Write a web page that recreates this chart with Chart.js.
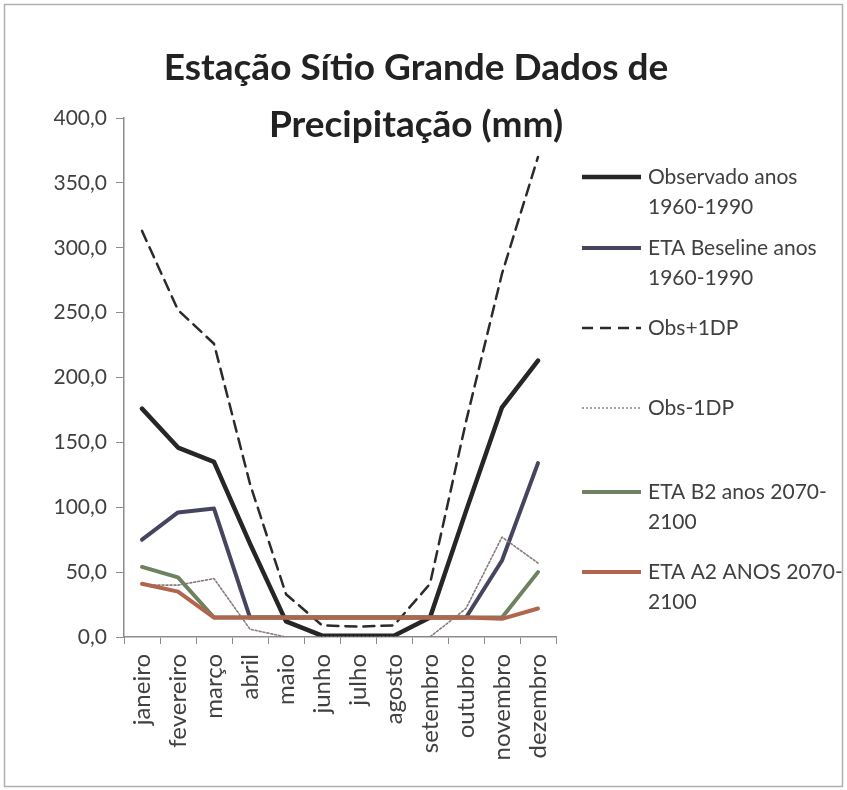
<!DOCTYPE html>
<html>
<head>
<meta charset="utf-8">
<script src="https://cdn.jsdelivr.net/npm/chart.js@4.4.1/dist/chart.umd.min.js"></script>
<style>
    html, body { margin: 0; padding: 0; background: #fff; }
    #wrap { width: 847px; height: 790px; position: relative; }
</style>
</head>
<body>
<div id="wrap"><canvas id="precipChart" width="847" height="790"></canvas></div>
<script>
// chart data (mm)
const months = ['janeiro', 'fevereiro', 'março', 'abril', 'maio', 'junho',
                'julho', 'agosto', 'setembro', 'outubro', 'novembro', 'dezembro'];
const observado = [176, 146, 135, 72, 12, 1, 1, 1, 15, 97, 177, 213];
const etaBaseline = [75, 96, 99, 15, 15, 15, 15, 15, 15, 15, 59, 134];
const obsMais1DP = [313, 252, 226, 118, 33, 9, 8, 9, 41, 166, 280, 370];
const obsMenos1DP = [40, 40, 45, 6, 0, 0, 0, 0, 0, 22, 77, 57];
const etaB2 = [54, 46, 15, 15, 15, 15, 15, 15, 15, 15, 15, 50];
const etaA2 = [41, 35, 15, 15, 15, 15, 15, 15, 15, 15, 14, 22];
const seriesNames = ['Observado anos 1960-1990', 'ETA Beseline anos 1960-1990', 'Obs+1DP',
                     'Obs-1DP', 'ETA B2 anos 2070-2100', 'ETA A2 ANOS 2070-2100'];
const yTicks = [0, 50, 100, 150, 200, 250, 300, 350, 400];
const titleLines = ['Estação Sítio Grande Dados de', 'Precipitação (mm)'];

Chart.defaults.font.family = 'Lato, "Open Sans", sans-serif';

// legend row positions (first text row of each entry)
const legendRows = [177, 248, 328, 408, 492, 572];

// Title, legend and frame drawn on the canvas
const decorPlugin = {
    id: 'decor',
    afterDraw(chart) {
        const ctx = chart.ctx;
        ctx.save();

        // outer frame
        ctx.strokeStyle = '#b0b0b0';
        ctx.lineWidth = 1.5;
        ctx.strokeRect(4.5, 4.5, 838, 782);

        // title
        ctx.fillStyle = '#222';
        ctx.font = 'bold 37px Lato';
        ctx.textAlign = 'center';
        ctx.textBaseline = 'middle';
        titleLines.forEach((t, i) => ctx.fillText(t, 416, 68 + i * 57));

        // legend
        ctx.font = '21px Lato';
        ctx.textAlign = 'left';
        chart.data.datasets.forEach((ds, i) => {
            const y = legendRows[i];
            ctx.beginPath();
            ctx.strokeStyle = ds.borderColor;
            ctx.lineWidth = ds.borderWidth;
            ctx.setLineDash(ds.borderDash || []);
            ctx.lineCap = 'butt';
            ctx.moveTo(582, y);
            ctx.lineTo(641, y);
            ctx.stroke();
            ctx.setLineDash([]);

            ctx.fillStyle = '#404040';
            wrapText(ctx, ds.label, 195).forEach((line, j) => {
                ctx.fillText(line, 648, y + j * 30);
            });
        });
        ctx.restore();
    }
};

// break after spaces and hyphens, like the spreadsheet legend does
function wrapText(ctx, text, maxW) {
    const tokens = text.split(/(?<=[ -])/);
    const lines = [];
    let cur = '';
    tokens.forEach(tok => {
        const test = cur + tok;
        if (cur && ctx.measureText(test.trimEnd()).width > maxW) {
            lines.push(cur.trimEnd());
            cur = tok;
        } else {
            cur = test;
        }
    });
    if (cur) lines.push(cur.trimEnd());
    return lines;
}

function makeSeries(i, data, color, width, dash) {
    return {
        label: seriesNames[i],
        data: data,
        borderColor: color,
        backgroundColor: color,
        borderWidth: width,
        borderDash: dash,
        pointRadius: 0,
        tension: 0,
        fill: false,
        borderJoinStyle: 'round',
        borderCapStyle: 'round',
        order: 10 - i  // later series on top, as in the original
    };
}

const ctx = document.getElementById('precipChart').getContext('2d');
const precipChart = new Chart(ctx, {
    type: 'line',
    data: {
        labels: months,
        datasets: [
            makeSeries(0, observado, '#262626', 4.5, []),
            makeSeries(1, etaBaseline, '#45455f', 4, []),
            makeSeries(2, obsMais1DP, '#2b2b2b', 2.5, [11, 7]),
            makeSeries(3, obsMenos1DP, '#8a7b7b', 1.6, [2, 2]),
            makeSeries(4, etaB2, '#6f8260', 4, []),
            makeSeries(5, etaA2, '#b2654c', 4, [])
        ]
    },
    options: {
        responsive: false,
        animation: false,
        layout: {
            padding: { top: 118, right: 291, left: 0, bottom: 0 }
        },
        plugins: {
            legend: { display: false },
            title: { display: false },
            tooltip: { enabled: false }
        },
        scales: {
            x: {
                offset: true,
                grid: {
                    offset: true,
                    drawOnChartArea: false,
                    drawTicks: true,
                    tickLength: 7,
                    color: '#8c8c8c'
                },
                border: { color: '#8c8c8c', width: 1.5 },
                ticks: {
                    color: '#404040',
                    font: { size: 24 },
                    minRotation: 90,
                    maxRotation: 90,
                    padding: 10,
                    autoSkip: false
                },
                afterFit(scale) { scale.height = 153; }
            },
            y: {
                min: 0,
                max: 400,
                afterBuildTicks(scale) {
                    scale.ticks = yTicks.map(v => ({ value: v }));
                },
                grid: {
                    drawOnChartArea: false,
                    drawTicks: true,
                    tickLength: 8,
                    color: '#8c8c8c'
                },
                border: { color: '#8c8c8c', width: 1.5 },
                ticks: {
                    color: '#404040',
                    font: { size: 21 },
                    padding: 9,
                    callback: v => v.toFixed(1).replace('.', ',')
                },
                afterFit(scale) { scale.width = 124; }
            }
        }
    },
    plugins: [decorPlugin]
});
</script>
</body>
</html>
